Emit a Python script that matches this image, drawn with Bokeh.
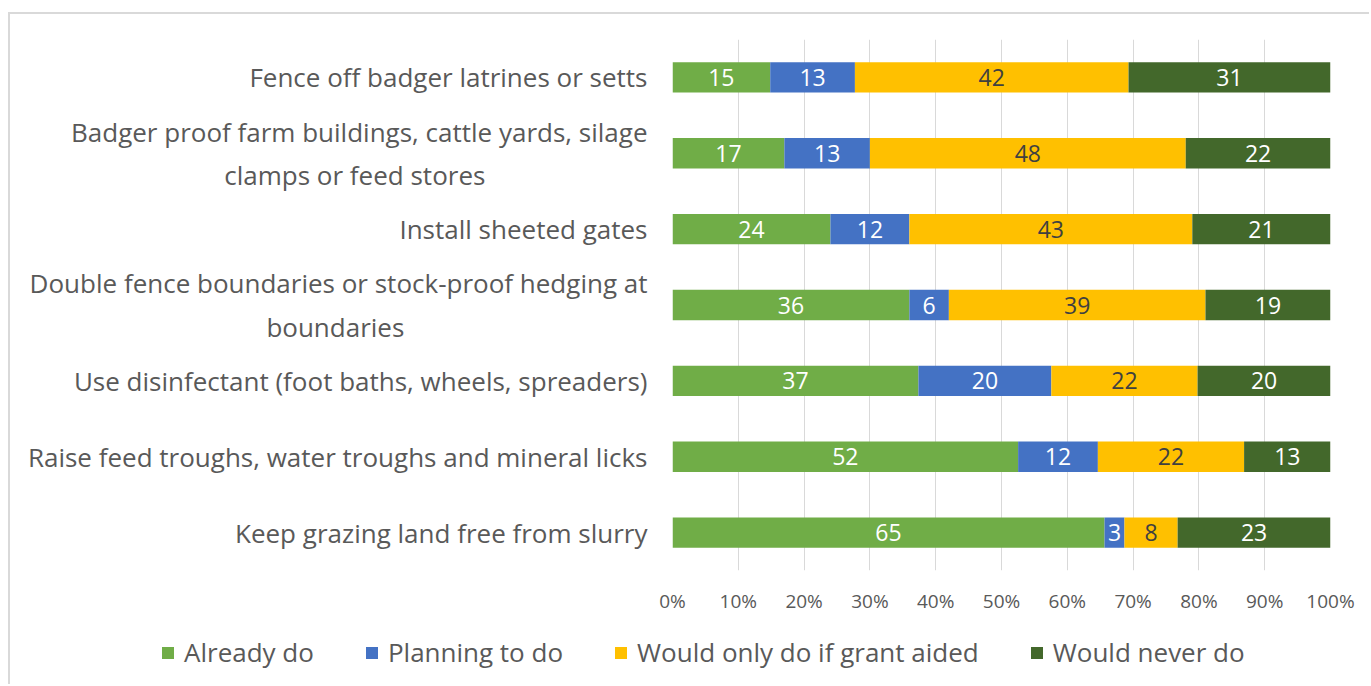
import numpy as np
from bokeh.plotting import figure
from bokeh.layouts import column
from bokeh.models import ColumnDataSource, FactorRange, Legend, LegendItem, NumeralTickFormatter, FixedTicker
from bokeh.core.properties import value
from bokeh.embed import file_html
from bokeh.resources import INLINE

NB = "\u00a0"
categories = [
    "Fence off badger latrines or setts",
    "Badger proof farm buildings, cattle yards, silage\nclamps or feed stores" + NB * 24,
    "Install sheeted gates",
    "Double fence boundaries or stock-proof hedging at\nboundaries" + NB * 36,
    "Use disinfectant (foot baths, wheels, spreaders)",
    "Raise feed troughs, water troughs and mineral licks",
    "Keep grazing land free from slurry",
]
already_do = [15, 17, 24, 36, 37, 52, 65]
planning_to_do = [13, 13, 12, 6, 20, 12, 3]
grant_aided = [42, 48, 43, 39, 22, 22, 8]
never_do = [31, 22, 21, 19, 20, 13, 23]
series_names = ["Already do", "Planning to do", "Would only do if grant aided", "Would never do"]
colors = ["#70AD47", "#4472C4", "#FFC000", "#43682B"]
label_colors = ["#FFFFFF", "#FFFFFF", "#404040", "#FFFFFF"]
x_ticks = [0, 0.1, 0.2, 0.3, 0.4, 0.5, 0.6, 0.7, 0.8, 0.9, 1.0]

FONT = "Open Sans"
series = [already_do, planning_to_do, grant_aided, never_do]
raw = np.array(series, dtype=float)
totals = raw.sum(axis=0)
frac = raw / totals

keys = ["s0", "s1", "s2", "s3"]
data = {"cat": categories}
for k, f in zip(keys, frac):
    data[k] = list(f)
source = ColumnDataSource(data)

W, H1, H2 = 1359, 611, 59
p = figure(
    width=W, height=H1,
    y_range=FactorRange(*categories[::-1]),
    x_range=(0, 1),
    output_backend="svg", toolbar_location=None,
    min_border_left=662, min_border_right=39, min_border_top=25, min_border_bottom=55,
)
p.frame_align = False

renderers = p.hbar_stack(keys, y="cat", height=0.4, color=colors, line_color=None, source=source)

# data labels
starts = np.vstack([np.zeros(len(categories)), np.cumsum(frac, axis=0)[:-1]])
for i in range(4):
    lsrc = ColumnDataSource(dict(
        x=list(starts[i] + frac[i] / 2),
        y=categories,
        t=[str(v) for v in series[i]],
    ))
    p.text(x="x", y="y", text="t", source=lsrc, text_align="center", text_baseline="middle",
           text_font=value(FONT), text_font_size="23px", text_color=label_colors[i])

p.xaxis.ticker = FixedTicker(ticks=x_ticks)
p.xaxis.formatter = NumeralTickFormatter(format="0%")
p.xaxis.axis_line_color = None
p.xaxis.major_tick_line_color = None
p.xaxis.minor_tick_line_color = None
p.xaxis.major_label_standoff = 11
p.xaxis.major_label_text_font = FONT
p.xaxis.major_label_text_font_size = "19px"
p.xaxis.major_label_text_color = "#595959"

p.yaxis.axis_line_color = None
p.yaxis.major_tick_line_color = None
p.yaxis.minor_tick_line_color = None
p.yaxis.major_label_standoff = 19
p.yaxis.major_label_text_font = FONT
p.yaxis.major_label_text_font_size = "26px"
p.yaxis.major_label_text_color = "#595959"

p.xgrid.grid_line_color = "#D9D9D9"
p.ygrid.grid_line_color = None
p.outline_line_color = None

# legend strip (swatch renderers sit outside the visible range; only their legend glyphs show)
p2 = figure(width=W, height=H2, x_range=(0, 1), y_range=(0, 1),
            output_backend="svg", toolbar_location=None,
            min_border_left=0, min_border_right=0, min_border_top=0, min_border_bottom=0,
            x_axis_location=None, y_axis_location=None)
p2.frame_align = False
p2.xgrid.visible = False
p2.ygrid.visible = False
p2.outline_line_color = None
leg_rs = [p2.rect(x=[-10], y=[-10], width=[1], height=[1], color=c, line_color=None) for c in colors]
legend = Legend(
    items=[LegendItem(label=n, renderers=[r]) for n, r in zip(series_names, leg_rs)],
    orientation="horizontal", location=(150, 14),
    padding=0, margin=0, spacing=50, label_standoff=9,
    glyph_width=15, glyph_height=15,
    label_text_font=FONT, label_text_font_size="26px", label_text_color="#595959",
    border_line_color=None, background_fill_alpha=0,
)
p2.add_layout(legend, "center")

layout = column(p, p2, spacing=0,
                styles={"margin-left": "8px", "margin-top": "12px",
                        "border-left": "2px solid #d9d9d9", "border-top": "2px solid #d9d9d9"})

open("out.html", "w").write(file_html(layout, INLINE))
